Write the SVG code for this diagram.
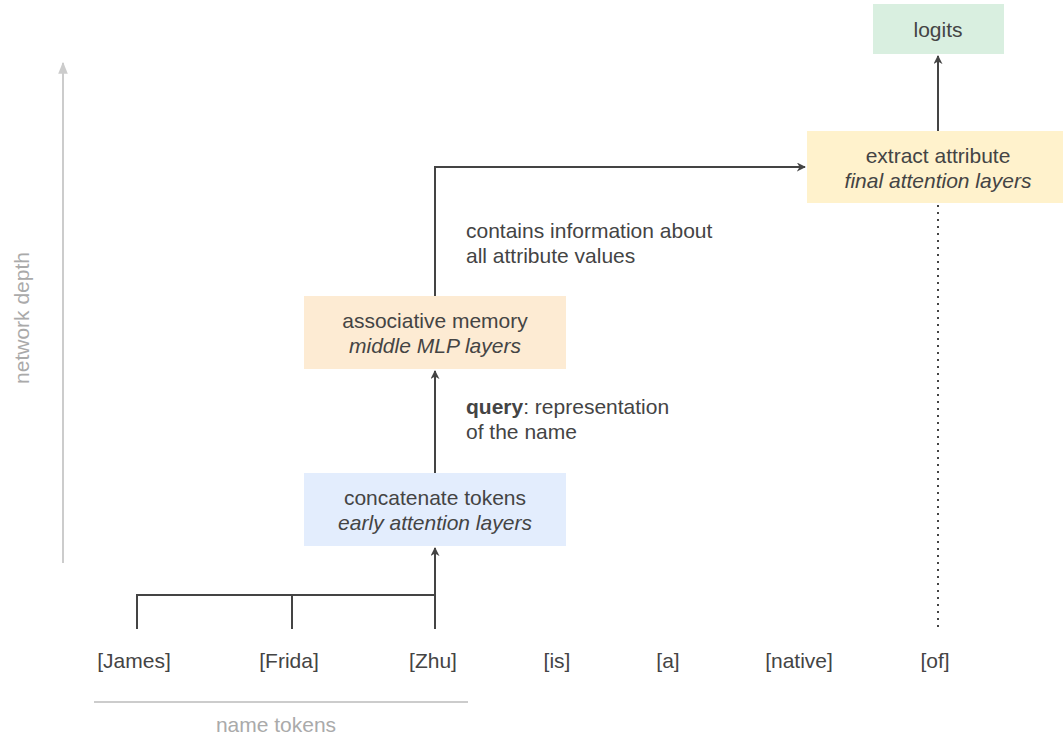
<svg xmlns="http://www.w3.org/2000/svg" width="1063" height="738" viewBox="0 0 1063 738">
<defs>
<style>
text{font-family:"Liberation Sans",Arial,sans-serif;font-size:21px;fill:#444}
.c{text-anchor:middle}
.i{font-style:italic}
.g{fill:#aaa}
.ln{stroke:#444;stroke-width:2;fill:none}
.ax{stroke:#ccc;stroke-width:2;fill:none}
</style>
<marker id="ah" viewBox="0 0 10 10" refX="9" refY="5" markerWidth="9" markerHeight="9" markerUnits="userSpaceOnUse" orient="auto">
<path d="M0,0 L10,5 L0,10 L3,5 z" fill="#444"/>
</marker>
<marker id="ahg" viewBox="0 0 10 10" refX="9" refY="5" markerWidth="12" markerHeight="12" markerUnits="userSpaceOnUse" orient="auto">
<path d="M0,1 L10,5 L0,9 z" fill="#ccc"/>
</marker>
</defs>
<rect width="1063" height="738" fill="#fff"/>
<g id="axis">
<line class="ax" x1="63" y1="563" x2="63" y2="63" marker-end="url(#ahg)"/>
<text class="c g" transform="translate(29,318) rotate(-90)">network depth</text>
<line x1="94" y1="702" x2="468" y2="702" stroke="#ccc" stroke-width="2"/>
<text class="c g" x="276" y="732">name tokens</text>
</g>
<g id="connectors">
<path class="ln" d="M137,629 V595 H435"/>
<line class="ln" x1="292" y1="595" x2="292" y2="629"/>
<line class="ln" x1="435" y1="629" x2="435" y2="548" marker-end="url(#ah)"/>
<line class="ln" x1="435" y1="473" x2="435" y2="371" marker-end="url(#ah)"/>
<path class="ln" d="M435,296 V167 H805" marker-end="url(#ah)"/>
<line class="ln" x1="938" y1="131" x2="938" y2="56" marker-end="url(#ah)"/>
<line x1="938" y1="205" x2="938" y2="630" stroke="#444" stroke-width="2" stroke-dasharray="2,5"/>
<text x="466" y="238">contains information about</text>
<text x="466" y="263">all attribute values</text>
<text x="466" y="414"><tspan font-weight="bold">query</tspan>: representation</text>
<text x="466" y="439">of the name</text>
</g>
<g id="logits">
<rect x="873" y="4" width="131" height="50" fill="#d9efe0"/>
<text class="c" x="938" y="37">logits</text>
</g>
<g id="extract">
<rect x="807" y="131" width="256" height="72" fill="#fff2cc"/>
<text class="c" x="938" y="163">extract attribute</text>
<text class="c i" x="938" y="188">final attention layers</text>
</g>
<g id="memory">
<rect x="304" y="296" width="262" height="73" fill="#fdebd3"/>
<text class="c" x="435" y="328">associative memory</text>
<text class="c i" x="435" y="353">middle MLP layers</text>
</g>
<g id="concat">
<rect x="304" y="473" width="262" height="73" fill="#e3edfd"/>
<text class="c" x="435" y="505">concatenate tokens</text>
<text class="c i" x="435" y="530">early attention layers</text>
</g>
<g id="tokens">
<text class="c" x="134" y="668">[James]</text>
<text class="c" x="289" y="668">[Frida]</text>
<text class="c" x="433" y="668">[Zhu]</text>
<text class="c" x="557" y="668">[is]</text>
<text class="c" x="668" y="668">[a]</text>
<text class="c" x="799" y="668">[native]</text>
<text class="c" x="935" y="668">[of]</text>
</g>
</svg>
